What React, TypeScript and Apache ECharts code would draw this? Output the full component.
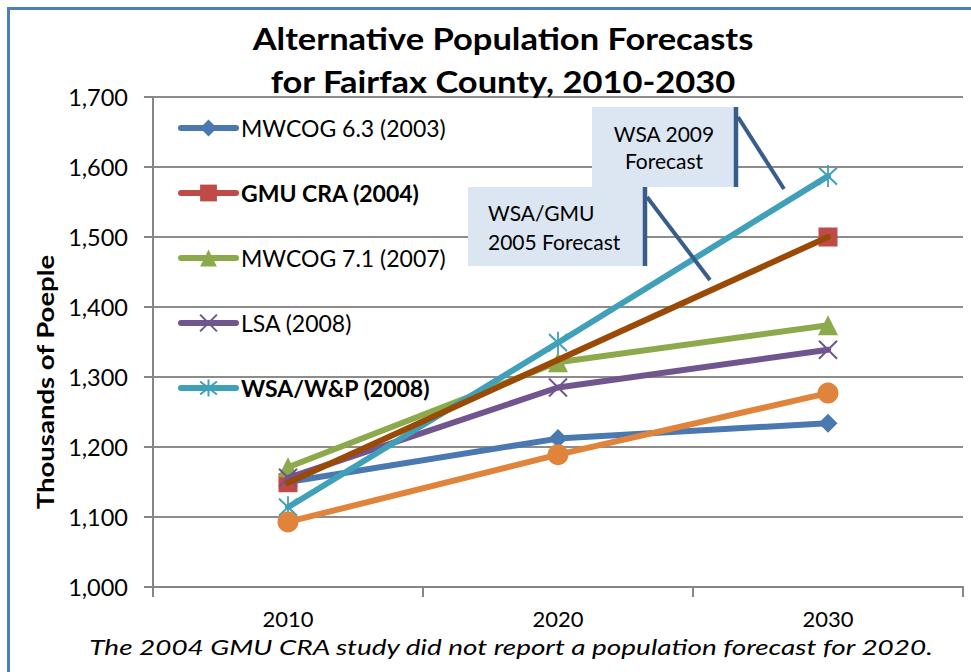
import React, { useEffect, useRef } from "react";
import * as echarts from "echarts";

const years = ["2010", "2020", "2030"];
const yTicks = [1000, 1100, 1200, 1300, 1400, 1500, 1600, 1700];

const mwcog63 = [1150, 1212, 1234];
const gmuCra = [1149, null, 1500];
const mwcog71 = [1171, 1321, 1374];
const lsa = [1156, 1285, 1339];
const wsaWP = [1114, 1349, 1587];
const orangeSeries = [1093, 1189, 1277];

const seriesNames = [
  "MWCOG 6.3 (2003)",
  "GMU CRA (2004)",
  "MWCOG 7.1 (2007)",
  "LSA (2008)",
  "WSA/W&P (2008)",
];

const titleText = "Alternative Population Forecasts\nfor Fairfax County, 2010-2030";
const yAxisTitle = "Thousands of Poeple";
const footnote = "The 2004 GMU CRA study did not report a population forecast for 2020.";
const callout1 = "WSA 2009\nForecast";
const callout2 = "WSA/GMU\n2005 Forecast";

const FONT = "Lato";

export default function App() {
  const ref = useRef<HTMLDivElement>(null);
  useEffect(() => {
    if (!ref.current) return;
    const chart = echarts.init(ref.current, null, { renderer: "svg" });
    const xSym = "path://M0,0L20,20M20,0L0,20";
    const starSym = "path://M0,3L20,23M20,3L0,23M10,0L10,26";
    const lineW = 6;
    const option: any = {
      animation: false,
      backgroundColor: "#ffffff",
      textStyle: { fontFamily: FONT },
      grid: { left: 153, right: 8, top: 97, bottom: 85, containLabel: false },
      legend: {
        orient: "vertical",
        left: 173,
        top: 111,
        itemWidth: 55,
        itemHeight: 21,
        itemGap: 41,
        lineStyle: { width: 6, cap: "round" },
        textStyle: { fontFamily: FONT, fontSize: 23, color: "#000", lineHeight: 24 },
        data: [
          { name: seriesNames[0] },
          { name: seriesNames[1], textStyle: { fontWeight: "bold" } },
          { name: seriesNames[2] },
          { name: seriesNames[3] },
          { name: seriesNames[4], textStyle: { fontWeight: "bold" } },
        ],
      },
      xAxis: {
        type: "category",
        data: years,
        boundaryGap: true,
        axisLine: { lineStyle: { color: "#868686", width: 2 } },
        axisTick: { show: true, length: 10, lineStyle: { color: "#868686", width: 2 } },
        axisLabel: { fontFamily: FONT, fontSize: 22, color: "#000", margin: 20 },
      },
      yAxis: {
        type: "value",
        min: yTicks[0],
        max: yTicks[yTicks.length - 1],
        interval: 100,
        axisLine: { show: true, lineStyle: { color: "#868686", width: 2 } },
        axisTick: { show: true, length: 9, lineStyle: { color: "#868686", width: 2 } },
        splitLine: { show: true, lineStyle: { color: "#8C8C8C", width: 2 } },
        axisLabel: {
          fontFamily: FONT,
          fontSize: 23.5,
          color: "#000",
          margin: 25,
          formatter: (v: number) => v.toLocaleString("en-US"),
        },
      },
      series: [
        {
          name: seriesNames[0],
          type: "line",
          data: mwcog63,
          symbol: "diamond",
          symbolSize: 19,
          lineStyle: { width: lineW, color: "#4A78B0", cap: "round", join: "round" },
          itemStyle: { color: "#4A78B0" },
          z: 2,
        },
        {
          name: seriesNames[1],
          type: "line",
          data: gmuCra,
          symbol: "rect",
          symbolSize: 19,
          connectNulls: false,
          lineStyle: { width: lineW, color: "#BE4B48", cap: "round" },
          itemStyle: { color: "#BE4B48" },
          z: 2,
        },
        {
          name: seriesNames[2],
          type: "line",
          data: mwcog71,
          symbol: "triangle",
          symbolSize: 20,
          lineStyle: { width: lineW, color: "#8CAA4B", cap: "round", join: "round" },
          itemStyle: { color: "#8CAA4B" },
          z: 3,
        },
        {
          name: seriesNames[3],
          type: "line",
          data: lsa,
          symbol: xSym,
          symbolSize: 18,
          lineStyle: { width: lineW, color: "#70558F", cap: "round", join: "round" },
          itemStyle: { color: "#70558F", borderColor: "#70558F", borderWidth: 2 },
          z: 4,
        },
        {
          name: seriesNames[4],
          type: "line",
          data: wsaWP,
          symbol: starSym,
          symbolSize: [18, 22],
          lineStyle: { width: lineW, color: "#40A0B8", cap: "round", join: "round" },
          itemStyle: { color: "#40A0B8", borderColor: "#40A0B8", borderWidth: 2 },
          z: 5,
        },
        {
          name: "Series 6",
          type: "line",
          data: orangeSeries,
          symbol: "circle",
          symbolSize: 21,
          lineStyle: { width: lineW, color: "#E0843B", cap: "round", join: "round" },
          itemStyle: { color: "#E0843B" },
          z: 6,
        },
        {
          name: "GMU CRA line",
          type: "line",
          data: gmuCra,
          connectNulls: true,
          showSymbol: false,
          symbol: "none",
          lineStyle: { width: lineW, color: "#9A4A06", cap: "round" },
          itemStyle: { color: "#9A4A06" },
          z: 7,
        },
      ],
      graphic: [
        {
          type: "rect",
          z: 100,
          shape: { x: 8.5, y: 8.5, width: 1100, height: 1000 },
          style: { fill: "none", stroke: "#4A7EBB", lineWidth: 3 },
        },
        {
          type: "text",
          z: 100,
          x: 503,
          y: 60,
          scaleX: 1.15,
          style: {
            text: titleText,
            font: `bold 30px ${FONT}`,
            fill: "#000",
            align: "center",
            verticalAlign: "middle",
            lineHeight: 43,
          },
        },
        {
          type: "text",
          z: 100,
          x: 45,
          y: 382,
          rotation: Math.PI / 2,
          scaleX: 1.25,
          style: {
            text: yAxisTitle,
            font: `bold 22px ${FONT}`,
            fill: "#000",
            align: "center",
            verticalAlign: "middle",
          },
        },
        {
          type: "text",
          z: 100,
          x: 511,
          y: 647,
          scaleX: 1.33,
          style: {
            text: footnote,
            font: `italic 21px ${FONT}`,
            fill: "#000",
            align: "center",
            verticalAlign: "middle",
          },
        },
        // callout 1
        {
          type: "rect",
          z: 100,
          shape: { x: 592, y: 107, width: 144, height: 80 },
          style: { fill: "#DCE6F2" },
        },
        {
          type: "text",
          z: 101,
          x: 664,
          y: 147,
          style: {
            text: callout1,
            font: `21px ${FONT}`,
            fill: "#000",
            align: "center",
            verticalAlign: "middle",
            lineHeight: 27,
          },
        },
        {
          type: "line",
          z: 102,
          shape: { x1: 736, y1: 107, x2: 736, y2: 187 },
          style: { stroke: "#385D8A", lineWidth: 4.5 },
        },
        {
          type: "line",
          z: 102,
          shape: { x1: 738, y1: 117, x2: 784, y2: 189 },
          style: { stroke: "#385D8A", lineWidth: 4 },
        },
        // callout 2
        {
          type: "rect",
          z: 103,
          shape: { x: 468, y: 187, width: 177, height: 79 },
          style: { fill: "#DCE6F2" },
        },
        {
          type: "text",
          z: 104,
          x: 488,
          y: 227,
          style: {
            text: callout2,
            font: `21px ${FONT}`,
            fill: "#000",
            align: "left",
            verticalAlign: "middle",
            lineHeight: 29,
          },
        },
        {
          type: "line",
          z: 105,
          shape: { x1: 645, y1: 187, x2: 645, y2: 266 },
          style: { stroke: "#385D8A", lineWidth: 4.5 },
        },
        {
          type: "line",
          z: 105,
          shape: { x1: 647, y1: 197, x2: 710, y2: 280 },
          style: { stroke: "#385D8A", lineWidth: 4 },
        },
      ],
    };
    chart.setOption(option);
    return () => chart.dispose();
  }, []);
  return (
    <div
      ref={ref}
      style={{ position: "fixed", left: 0, top: 0, width: 971, height: 672 }}
    />
  );
}
